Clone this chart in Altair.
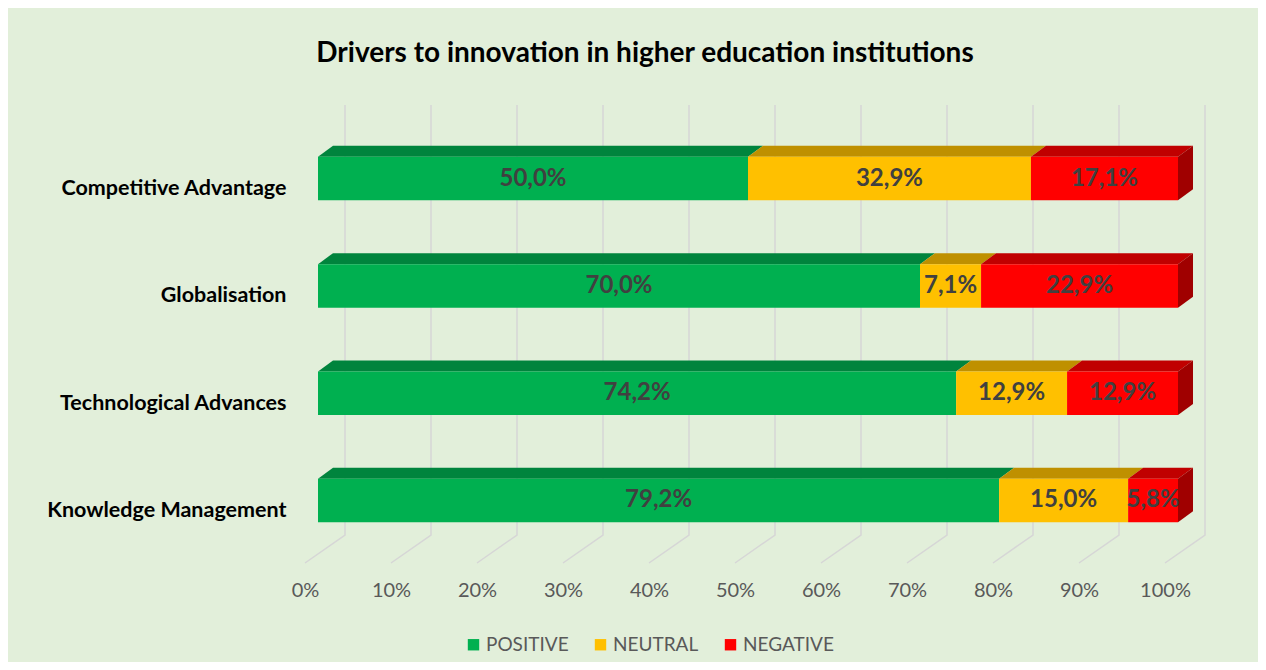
import altair as alt
import pandas as pd

# ---- data ----
categories = ["Competitive Advantage", "Globalisation", "Technological Advances", "Knowledge Management"]
statuses = ["POSITIVE", "NEUTRAL", "NEGATIVE"]
positive = [50.0, 70.0, 74.2, 79.2]
neutral = [32.9, 7.1, 12.9, 15.0]
negative = [17.1, 22.9, 12.9, 5.8]
x_ticks = [0, 10, 20, 30, 40, 50, 60, 70, 80, 90, 100]
title_text = "Drivers to innovation in higher education institutions"

# ---- style ----
FONT = "Lato"
front_colors = ["#00B050", "#FFC000", "#FF0000"]
top_colors = ["#00843D", "#BF9000", "#C00000"]
side_color = "#A00000"
grid_color = "#D6D6D6"
bg = "#E2EFDA"

W, H = 860, 458
X_DOMAIN = [0, 100]
Y_DOMAIN = [-0.5825, 3.686]
px_x = W / (X_DOMAIN[1] - X_DOMAIN[0])
px_y = H / (Y_DOMAIN[1] - Y_DOMAIN[0])
HALF = 21.75 / px_y
DEPTH_X = 15 / px_x
DEPTH_Y = 11 / px_y
BACK_X = 27 / px_x
FRONT_X = -13 / px_x
FLOOR_BACK = Y_DOMAIN[0] + 28 / px_y

series = [positive, neutral, negative]
n = len(categories)

seg_rows, top_rows, side_rows = [], [], []
for k, cat in enumerate(categories):
    row = n - 1 - k
    start = 0.0
    for j, st in enumerate(statuses):
        v = series[j][k]
        x0, x1 = start, start + v
        sid = f"{k}-{j}"
        seg_rows.append(dict(cat=cat, status=st, x0=x0, x1=x1, mid=(x0 + x1) / 2,
                             row=row, ylo=row - HALF, yhi=row + HALF,
                             label=f"{v:.1f}".replace(".", ",") + "%"))
        top_rows.append(dict(seg=sid, y=row + HALF, xa=x0, xb=x1, c=top_colors[j]))
        top_rows.append(dict(seg=sid, y=row + HALF + DEPTH_Y, xa=x0 + DEPTH_X, xb=x1 + DEPTH_X, c=top_colors[j]))
        if j == len(statuses) - 1:
            side_rows.append(dict(seg=sid, x=x1, ya=row - HALF, yb=row + HALF))
            side_rows.append(dict(seg=sid, x=x1 + DEPTH_X, ya=row - HALF + DEPTH_Y, yb=row + HALF + DEPTH_Y))
        start = x1

grid_rows = []
for v in x_ticks:
    grid_rows.append(dict(t=v, s=0, x=v + BACK_X, y=Y_DOMAIN[1]))
    grid_rows.append(dict(t=v, s=1, x=v + BACK_X, y=FLOOR_BACK))
    grid_rows.append(dict(t=v, s=2, x=v + FRONT_X, y=Y_DOMAIN[0]))

seg_df = pd.DataFrame(seg_rows)
top_df = pd.DataFrame(top_rows)
side_df = pd.DataFrame(side_rows)
grid_df = pd.DataFrame(grid_rows)

xs = alt.Scale(domain=X_DOMAIN, nice=False, zero=False)
ys = alt.Scale(domain=Y_DOMAIN, nice=False, zero=False)

label_expr = "[" + ",".join(f"'{c}'" for c in categories[::-1]) + "][datum.value]"

xaxis = alt.Axis(values=x_ticks, labelExpr="datum.value + '%'", title=None, grid=False,
                 domain=False, ticks=False, labelFontSize=20, labelColor="#595959",
                 labelFont=FONT, labelPadding=17, labelOffset=-13,
                 labelFlush=False, labelOverlap=False, labelBound=False)
yaxis = alt.Axis(values=list(range(n)), labelExpr=label_expr, title=None, grid=False,
                 domain=False, ticks=False, labelFontSize=21.5, labelFontWeight="bold",
                 labelColor="#000000", labelFont=FONT, labelPadding=32, labelOffset=10,
                 labelLimit=400, labelOverlap=False, labelBound=False)

grid = alt.Chart(grid_df).mark_line(color=grid_color, strokeWidth=1.5).encode(
    x=alt.X("x:Q", scale=xs, axis=xaxis),
    y=alt.Y("y:Q", scale=ys, axis=yaxis),
    detail="t:N",
    order="s:Q",
)

tops = alt.Chart(top_df).mark_area(orient="horizontal").encode(
    y=alt.Y("y:Q", scale=ys, axis=yaxis),
    x=alt.X("xa:Q", scale=xs, axis=xaxis),
    x2="xb:Q",
    detail="seg:N",
    fill=alt.Fill("c:N", scale=None),
)

sides = alt.Chart(side_df).mark_area(orient="vertical", color=side_color).encode(
    x=alt.X("x:Q", scale=xs, axis=xaxis),
    y=alt.Y("ya:Q", scale=ys, axis=yaxis),
    y2="yb:Q",
    detail="seg:N",
)

fronts = alt.Chart(seg_df).mark_rect().encode(
    x=alt.X("x0:Q", scale=xs, axis=xaxis),
    x2="x1:Q",
    y=alt.Y("ylo:Q", scale=ys, axis=yaxis),
    y2="yhi:Q",
    color=alt.Color("status:N", scale=alt.Scale(domain=statuses, range=front_colors),
                    legend=alt.Legend(title=None, orient="none", direction="horizontal",
                                      legendX=146, legendY=530, symbolType="square",
                                      symbolSize=130, symbolStrokeWidth=0,
                                      labelFont=FONT, labelFontSize=19, labelColor="#595959",
                                      labelOffset=3, columnPadding=22, padding=0)),
)

texts = alt.Chart(seg_df).mark_text(font=FONT, fontSize=24, fontWeight="bold", color="#404040").encode(
    x=alt.X("mid:Q", scale=xs, axis=xaxis),
    y=alt.Y("row:Q", scale=ys, axis=yaxis),
    text="label:N",
)

chart = alt.layer(grid, tops, sides, fronts, texts).properties(
    width=W, height=H,
    title=alt.Title(title_text, font=FONT, fontSize=28, fontWeight="bold", color="#000000",
                    anchor="middle", dx=-103, offset=34),
    autosize=alt.AutoSizeParams(type="none"),
    padding={"left": 310, "top": 97, "right": 80, "bottom": 99},
    background=bg,
).configure_view(strokeWidth=0)

chart.save("out.html", embed_options={"renderer": "svg", "actions": False})
